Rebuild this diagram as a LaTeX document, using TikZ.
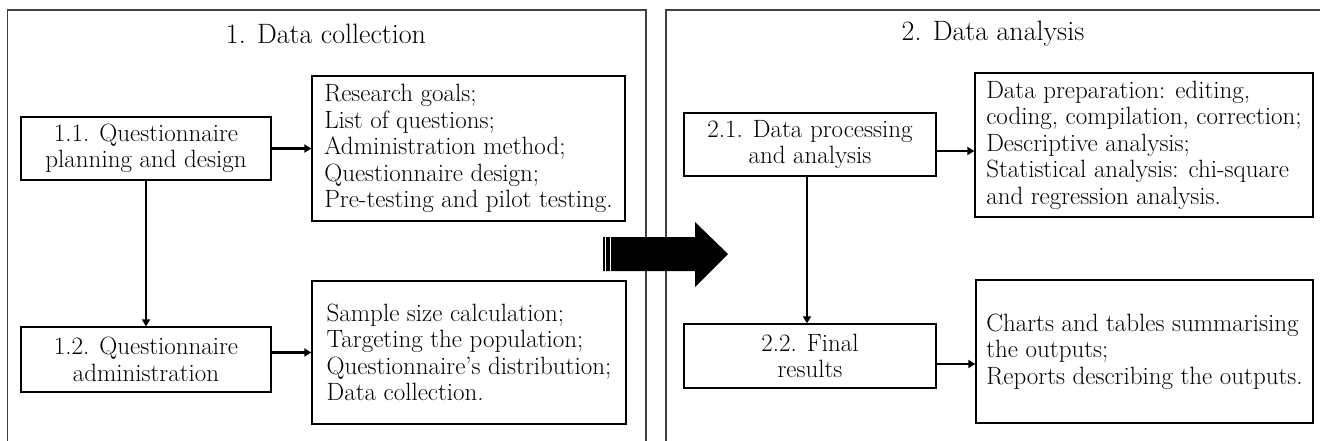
\documentclass[tikz,border=0pt]{standalone}
\usetikzlibrary{arrows.meta,calc}
\begin{document}
\begin{tikzpicture}[x=1pt,y=-1pt,
  panel/.style={draw=black!75,line width=1.4pt},
  ttl/.style={font=\fontsize{28}{32}\selectfont,inner sep=0pt},
  stepbox/.style={draw=black,line width=1.3pt,inner sep=0pt,align=center,
    font=\fontsize{25}{26.5}\selectfont},
  listbox/.style={draw=black,line width=1.3pt,inner sep=0pt,align=left,
    font=\fontsize{25}{26.5}\selectfont},
  conn/.style={line width=2.6pt,-{Triangle[length=7pt,width=8pt]}}]
\useasboundingbox (0,0) rectangle (1320,441);
\fill[white] (0,0) rectangle (1320,441);
% panels
\draw[panel] (7.5,441) -- (7.5,10) -- (646,10) -- (646,441);
\draw[panel] (666,441) -- (666,10) -- (1320,10);
\node[ttl] (t1) at (326,34) {1. Data collection};
\node[ttl] (t2) at (993,34) {2. Data analysis};
% left panel boxes
\node[stepbox,minimum width=250,minimum height=63] (n11) at (146,148.5)
  {1.1. Questionnaire\\planning and design};
\node[listbox,minimum width=313,minimum height=145] (r1) at (468.5,148.5)
  {Research goals;\\List of questions;\\Administration method;\\Questionnaire design;\\Pre-testing and pilot testing.};
\node[stepbox,minimum width=250,minimum height=65] (n12) at (146,359.5)
  {1.2. Questionnaire\\administration};
\node[listbox,minimum width=314,minimum height=143] (r2) at (469,352.5)
  {Sample size calculation;\\Targeting the population;\\Questionnaire's distribution;\\Data collection.};
% right panel boxes
\node[stepbox,minimum width=252,minimum height=63] (n21) at (810,144.5)
  {2.1. Data processing\\and analysis};
\node[listbox,minimum width=338,minimum height=144] (r3) at (1144,145)
  {Data preparation: editing,\\coding, compilation, correction;\\Descriptive analysis;\\Statistical analysis: chi-square\\and regression analysis.};
\node[stepbox,minimum width=252,minimum height=64] (n22) at (810,356)
  {2.2. Final\\results};
\node[listbox,minimum width=337,minimum height=143] (r4) at (1144.5,351.5)
  {Charts and tables summarising\\the outputs;\\Reports describing the outputs.};
% connector end points
\coordinate (a21) at ($(n21.east)+(0,6.5)$);
\coordinate (a22) at ($(n22.east)+(0,8)$);
\coordinate (v21) at ($(n21.south)+(-3,0)$);
% connectors
\draw[conn] (n11.east) -- (n11.east -| r1.west);
\draw[conn] (n11.south) -- (n12.north);
\draw[conn] (n12.east |- r2.west) -- (r2.west);
\draw[conn] (a21) -- (a21 -| r3.west);
\draw[conn] (v21) -- (v21 |- n22.north);
\draw[conn] (a22) -- (a22 -| r4.west);
% big arrow
\fill[black] (603,237) -- (695,237) -- (695,222) -- (728,254) -- (695,287) -- (695,271) -- (603,271) -- cycle;
\fill[white] (605.4,237) rectangle (606.4,271);
\fill[white] (610.4,237) rectangle (611.4,271);
\end{tikzpicture}
\end{document}
